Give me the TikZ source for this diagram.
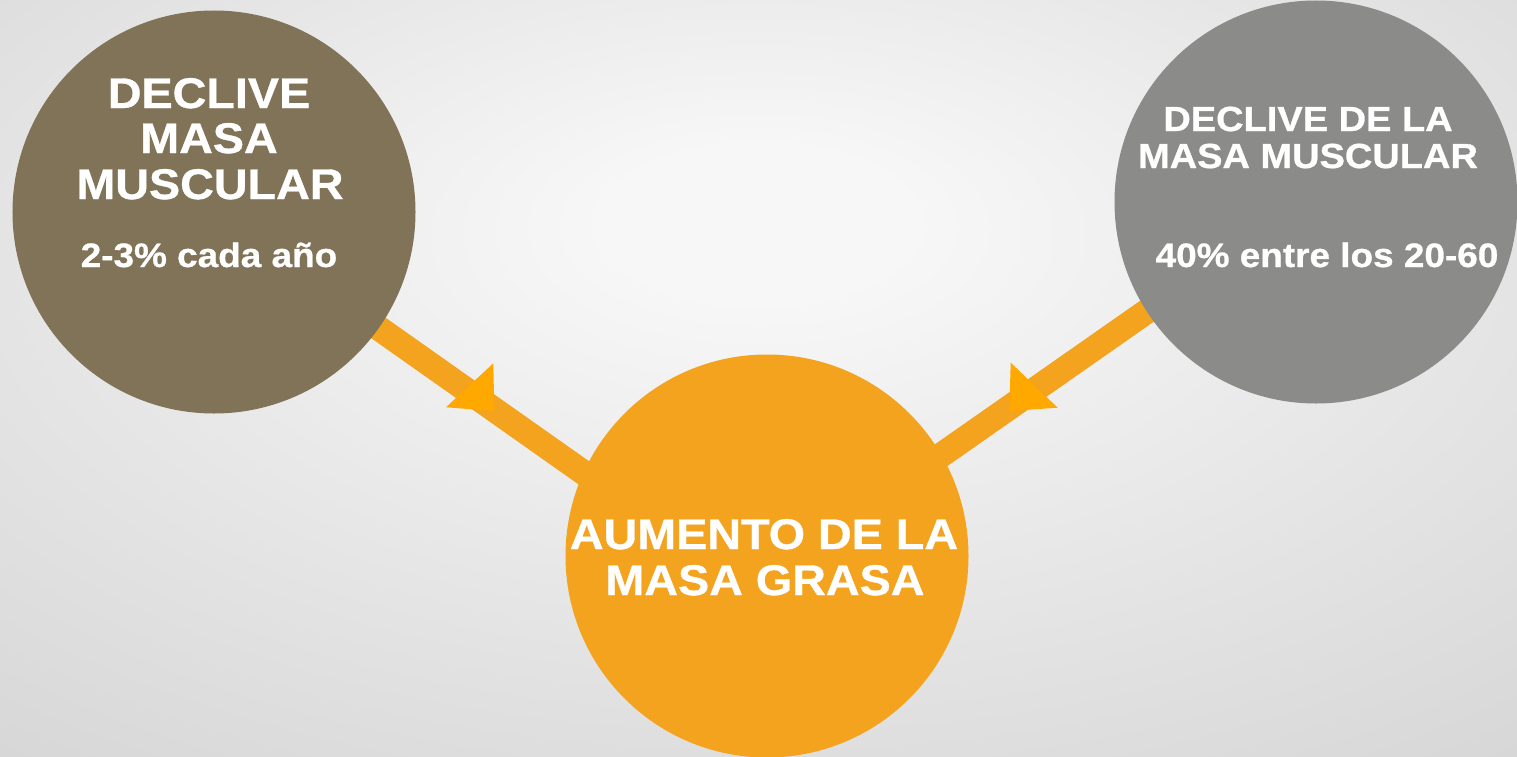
\documentclass[tikz,border=0pt]{standalone}
\usepackage{fontspec}
\setmainfont{Liberation Sans}[FakeStretch=1.09, BoldFeatures={FakeBold=0.8}]
\usetikzlibrary{backgrounds,calc}

\definecolor{bgin}{HTML}{F7F7F7}
\definecolor{bgmid}{HTML}{E4E4E4}
\definecolor{bgedge}{HTML}{CDCDCF}
\definecolor{bgout}{HTML}{C6C6C8}
\definecolor{brownc}{HTML}{807357}
\definecolor{grayc}{HTML}{8B8B89}
\definecolor{orangec}{HTML}{F3A31E}
\definecolor{tipc}{HTML}{FFA800}

\pgfdeclareradialshading{bgshade}{\pgfpoint{0bp}{11bp}}{color(0bp)=(bgin); color(5bp)=(bgin); color(25bp)=(bgmid); color(50bp)=(bgedge); color(65bp)=(bgout); color(75bp)=(bgout)}

\tikzset{
  circ/.style={circle, minimum size=403bp, inner sep=0pt, draw=none},
  conn/.style={draw=orangec, line width=25bp},
  tip/.style={fill=tipc, draw=none},
  txt/.style={text=white, inner sep=0pt, anchor=base},
  big/.style={txt, font=\fontsize{43}{46}\selectfont\bfseries},
  mid/.style={txt, font=\fontsize{34}{37}\selectfont\bfseries},
  midr/.style={txt, font=\fontsize{35}{37}\selectfont\bfseries}
}

\begin{document}
\begin{tikzpicture}[x=1bp, y=-1bp]
\useasboundingbox (0,0) rectangle (1517,757);
\clip (0,0) rectangle (1517,757);

\node[circ, fill=brownc]  (L) at (214,212) {};
\node[circ, fill=grayc]   (R) at (1316,202) {};
\node[circ, fill=orangec] (B) at (767,556) {};

\begin{scope}[on background layer]
  \shade[shading=bgshade] (0,0) rectangle (1517,757);
  \draw[conn] (L.center) -- ($(B.center)+(0,46)$);
  \draw[conn] ($(R.center)+(0,-9)$) -- ($(B.center)+(0,21)$);
  \fill[tip] (446,407.3) -- (493.3,363.3) -- (494.3,411) -- cycle;
  \fill[tip] (1010.7,362.7) -- (1009.3,411) -- (1057.7,407.7) -- cycle;
\end{scope}

\node[big] (L1) at (209,108) {DECLIVE};
\node[big] (L2) at (209,153) {MASA};
\node[big] (L3) at (210,199) {MUSCULAR};
\node[mid] (L4) at (209,267) {2-3\% cada año};

\node[midr] (R1) at (1308,131) {DECLIVE DE LA};
\node[midr] (R2) at (1308,168) {MASA MUSCULAR};
\node[mid]  (R3) at (1327,267) {40\% entre los 20-60};

\node[big] (B1) at (764,549) {AUMENTO DE LA};
\node[big] (B2) at (765,595) {MASA GRASA};
\end{tikzpicture}
\end{document}
